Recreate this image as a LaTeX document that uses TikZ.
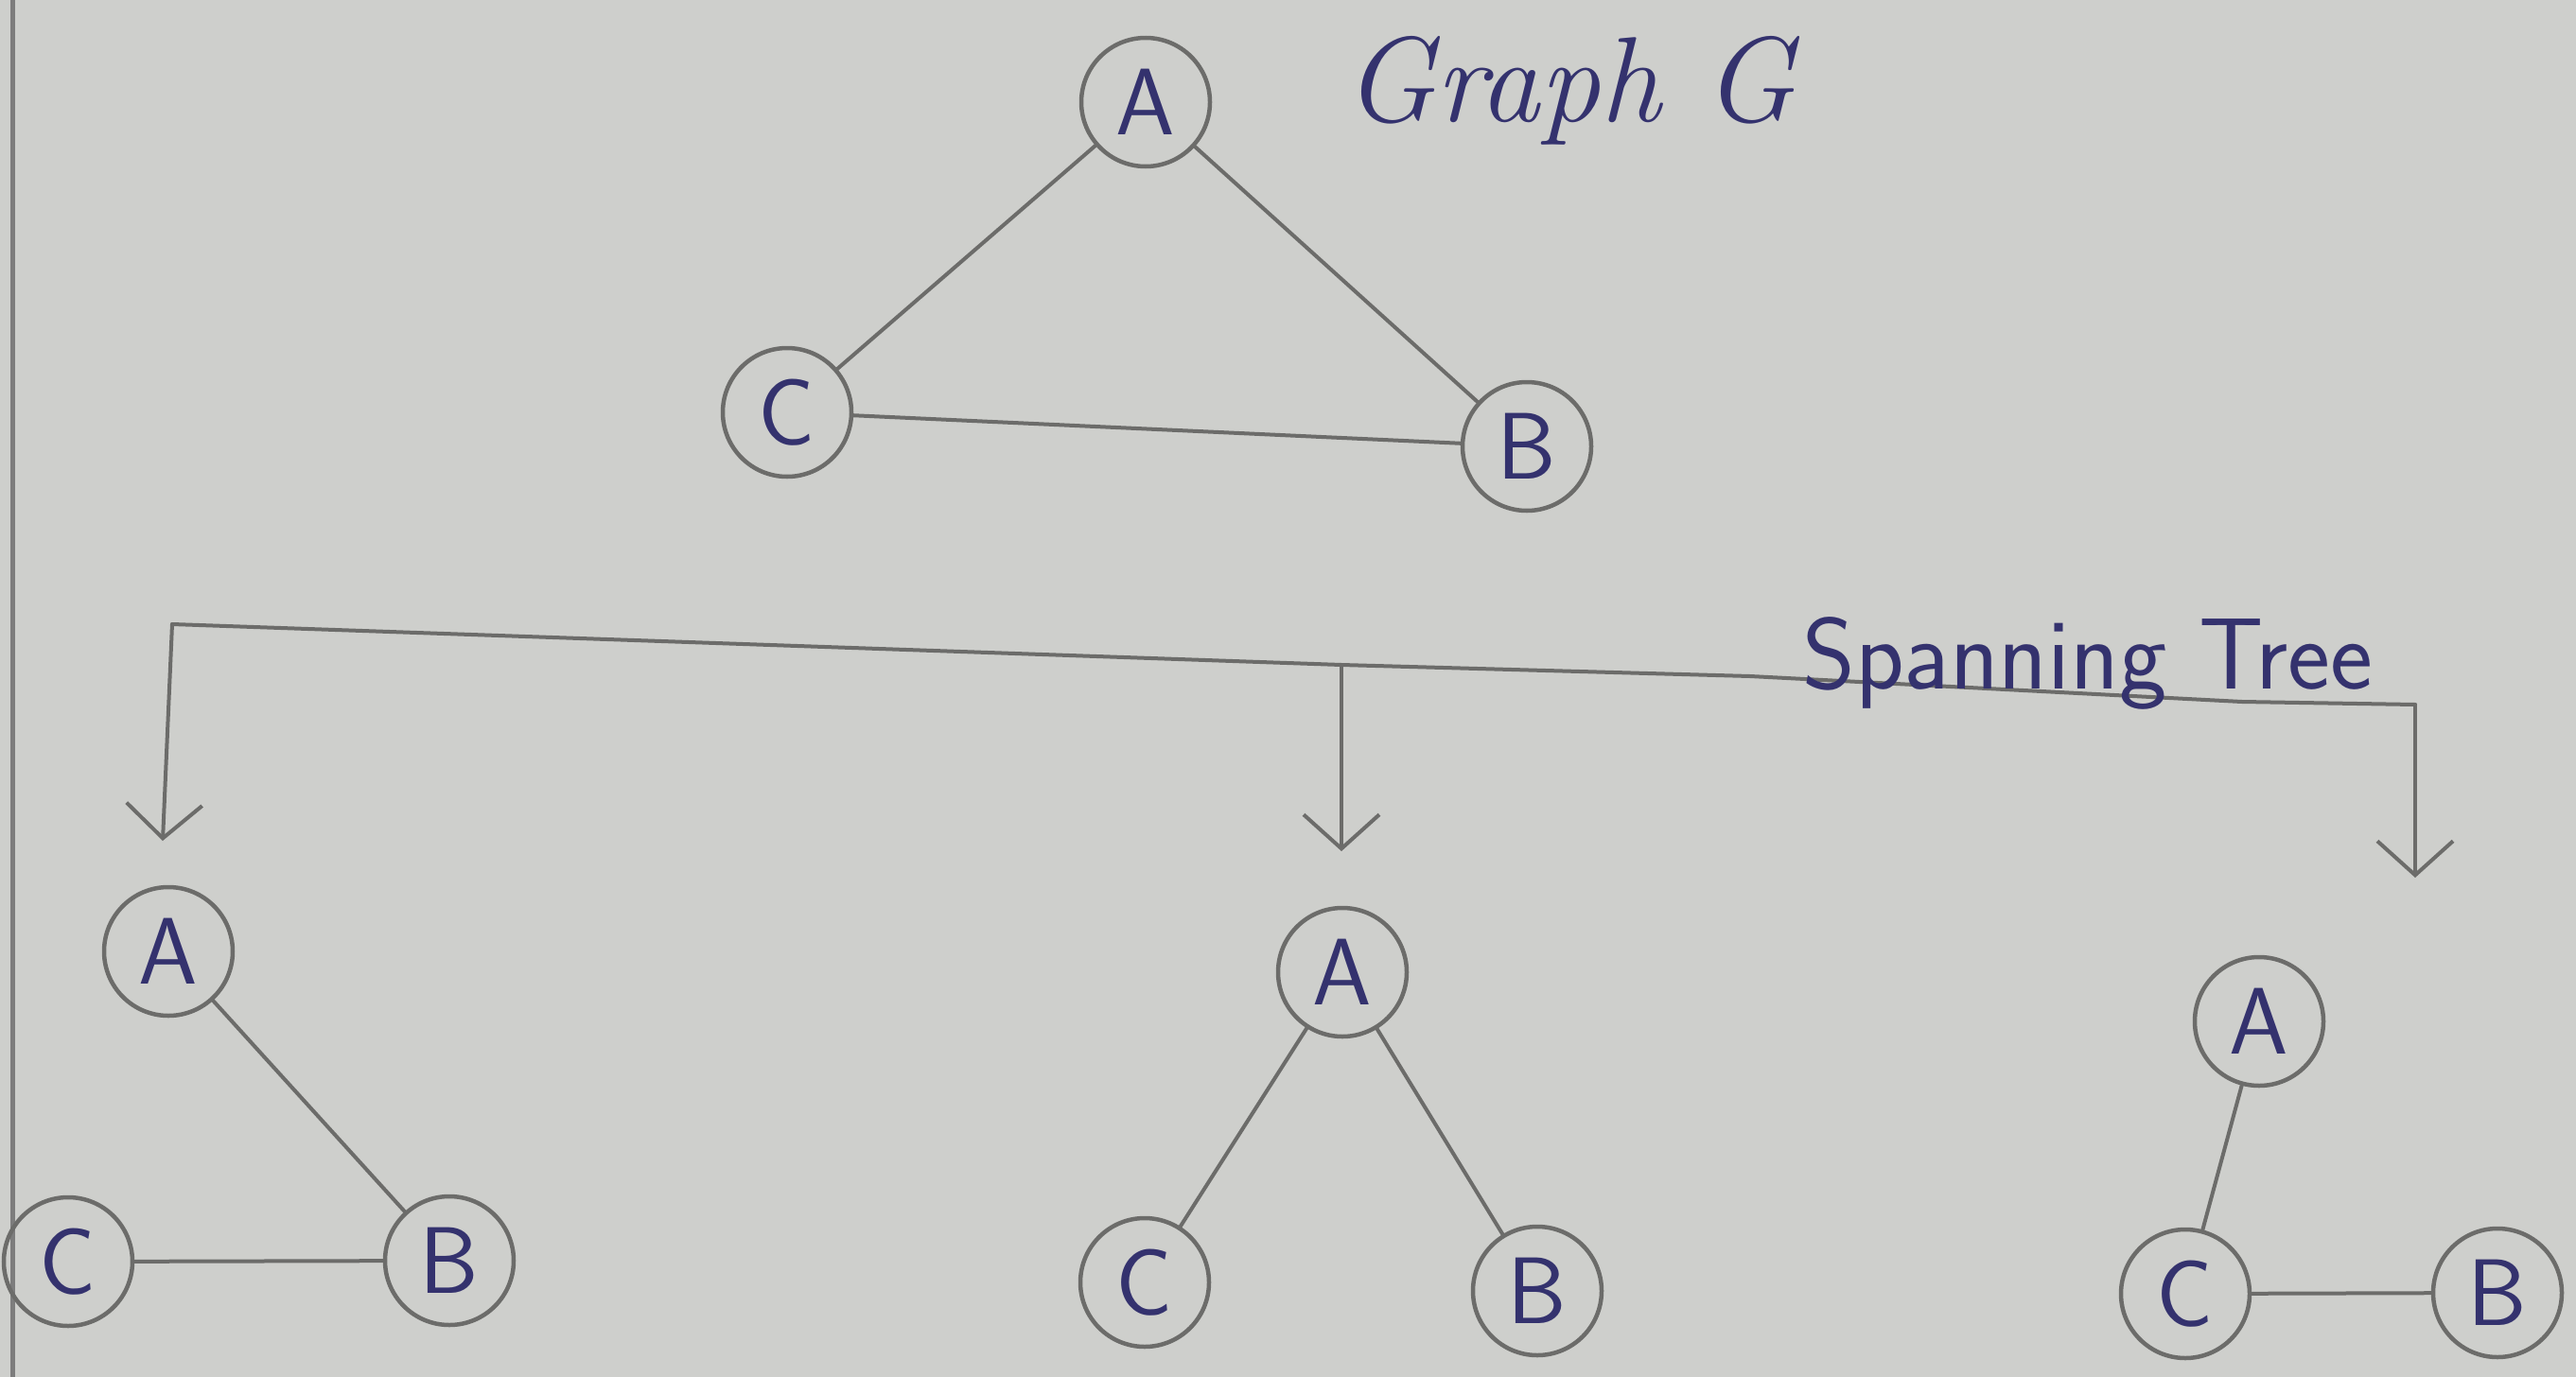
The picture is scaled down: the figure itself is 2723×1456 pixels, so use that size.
\documentclass[tikz,border=0pt]{standalone}
\usepackage{fontspec}
\usetikzlibrary{arrows.meta}
\definecolor{paper}{RGB}{206,207,204}
\definecolor{pencil}{RGB}{108,108,106}
\definecolor{margin}{RGB}{125,125,125}
\definecolor{ink}{RGB}{52,50,110}
\begin{document}
\begin{tikzpicture}[x=1pt,y=-1pt,
  vtx/.style={circle, draw=pencil, line width=4.5pt, minimum size=136pt, inner sep=0pt,
    text=ink, font=\fontsize{100}{100}\selectfont\sffamily},
  edge/.style={draw=pencil, line width=4pt, line cap=round, line join=round},
  arr/.style={edge, -{Straight Barb[length=36pt,width=80pt]}},
  title/.style={text=ink, inner sep=0pt, anchor=base west}]
\useasboundingbox (0,0) rectangle (2723,1456);
\fill[paper] (0,0) rectangle (2723,1456);
\draw[margin, line width=5pt] (13,0) -- (13,1456);

% Graph G
\node[vtx] (A) at (1211,108) {A};
\node[vtx] (C) at (832,436) {C};
\node[vtx] (B) at (1614,472) {B};
\draw[edge] (A) -- (C);
\draw[edge] (A) -- (B);
\draw[edge] (C) -- (B);
\node[title, font=\fontsize{128}{128}\selectfont\itshape] (gt) at (1420,128) {Graph G};

% bracket
\coordinate (br0) at (182,660);
\coordinate (brm) at (1418,703);
\coordinate (br1) at (2553,745);
\coordinate (tipL) at (172,889);
\coordinate (tipM) at (1418,900);
\coordinate (tipR) at (2553,928);
\draw[edge] (br0) -- (brm) -- (1850,715) -- (2370,742) -- (br1);
\draw[arr] (br0) -- (tipL);
\draw[arr] (brm) -- (tipM);
\draw[arr] (br1) -- (tipR);
\node[title, font=\fontsize{107}{107}\selectfont\sffamily] (st) at (1905,728) {Spanning Tree};

% tree 1
\node[vtx] (A1) at (178,1006) {A};
\node[vtx] (C1) at (72,1334) {C};
\node[vtx] (B1) at (475,1333) {B};
\draw[edge] (A1) -- (B1);
\draw[edge] (C1) -- (B1);

% tree 2
\node[vtx] (A2) at (1419,1028) {A};
\node[vtx] (C2) at (1210,1356) {C};
\node[vtx] (B2) at (1625,1365) {B};
\draw[edge] (A2) -- (C2);
\draw[edge] (A2) -- (B2);

% tree 3
\node[vtx] (A3) at (2388,1080) {A};
\node[vtx] (C3) at (2310,1368) {C};
\node[vtx] (B3) at (2640,1367) {B};
\draw[edge] (A3) -- (C3);
\draw[edge] (C3) -- (B3);
\end{tikzpicture}
\end{document}
